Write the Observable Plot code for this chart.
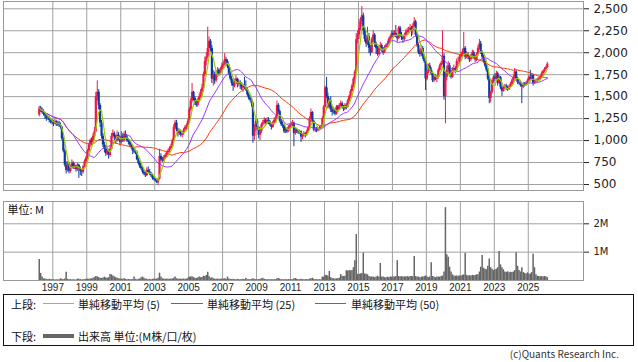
<!DOCTYPE html>
<html><head><meta charset="utf-8">
<script src="https://cdn.jsdelivr.net/npm/d3@7"></script>
<script src="https://cdn.jsdelivr.net/npm/@observablehq/plot@0.6"></script>
<style>
body{margin:0;background:#fff;}
#wrap{position:relative;width:638px;height:362px;overflow:hidden;background:#fff;color:#222;}
#price,#vol{position:absolute;left:0;}
#price{top:0;} #vol{top:192px;}
#vol g[aria-label="x-axis tick label"]{font-family:"Liberation Sans",sans-serif;font-size:10px;}
.box{position:absolute;left:3px;top:294px;width:631px;height:52px;border:1px solid #111;box-sizing:border-box;}
.t{position:absolute;font-family:"Noto Sans CJK JP",sans-serif;font-size:11px;line-height:14px;white-space:nowrap;color:#111;}
.ln{position:absolute;height:1px;}
.cp{position:absolute;right:19px;top:348px;font-family:"Noto Sans CJK JP",sans-serif;font-size:10px;line-height:12px;color:#333;}
</style></head>
<body>
<div id="wrap">
  <div id="price"></div>
  <div id="vol"></div>
  <div class="box"></div>
  <div class="t" style="left:11px;top:297px;">上段:</div>
  <div class="ln" style="left:43px;top:303px;width:31px;background:#99cc00;"></div>
  <div class="t" style="left:78px;top:297px;">単純移動平均 (5)</div>
  <div class="ln" style="left:171px;top:303px;width:32px;background:#9933ff;"></div>
  <div class="t" style="left:207px;top:297px;">単純移動平均 (25)</div>
  <div class="ln" style="left:315px;top:303px;width:31px;background:#ff3300;"></div>
  <div class="t" style="left:351px;top:297px;">単純移動平均 (50)</div>
  <div class="t" style="left:11px;top:329px;">下段:</div>
  <div class="ln" style="left:43px;top:334px;width:31px;height:4px;background:#666;"></div>
  <div class="t" style="left:78px;top:329px;">出来高 単位:(M株/口/枚)</div>
  <div class="cp">(c)Quants Research Inc.</div>
</div>
<script>
// ---- data (monthly, Mar 1996 - Feb 2026) ----
const open = [
1290,1370,1340,1320,1300,1280,1250,1260,1230,1210,
1200,1190,1215,1180,1200,1170,1150,1020,880,720,660,730,
650,700,740,690,710,670,720,680,650,640,700,760,
800,880,950,1000,980,1050,1100,1500,1550,1400,1200,1050,
950,900,850,880,830,900,1050,1080,1040,1000,1060,1020,
980,1050,1000,1070,1040,1000,980,950,920,880,870,860,
780,740,700,680,640,620,600,660,640,620,600,570,
560,540,520,560,820,780,770,800,830,860,880,910,
930,1000,1150,1200,1120,1080,1100,1060,1080,1120,1150,1170,
1220,1350,1450,1550,1480,1420,1400,1450,1500,1550,1600,1750,
1900,1950,2050,2130,2050,1700,1750,1680,1750,1800,1760,1800,
1850,1870,1920,1900,1850,1760,1700,1650,1620,1680,1700,1640,
1660,1640,1600,1620,1600,1580,1520,1480,1460,1420,1050,1150,
1220,1150,1060,1100,1180,1200,1230,1200,1230,1210,1180,1150,
1200,1230,1250,1400,1330,1220,1180,1170,1100,1120,1100,1150,
1170,1180,1200,1080,1120,1100,1090,1100,1040,1060,1080,1060,
1100,1140,1250,1320,1220,1120,1130,1110,1130,1140,1150,1250,
1380,1600,1500,1380,1450,1350,1320,1340,1300,1380,1350,1400,
1420,1380,1360,1400,1380,1450,1500,1560,1620,1700,1780,2150,
2200,2280,2350,2420,2250,2150,2100,2180,2050,2000,2150,2200,
2100,2050,1980,2050,2080,2040,2000,2060,2080,2100,2150,2180,
2220,2200,2220,2180,2160,2280,2200,2170,2150,2200,2230,2250,
2260,2280,2250,2300,2350,2200,2080,2000,1980,2050,1950,1900,
1700,1780,1850,1800,1760,1680,1720,1700,1720,1800,1850,1880,
1960,1500,1720,1800,1850,1780,1720,1800,1820,1800,1900,1900,
1950,1980,2000,2050,1950,1980,1950,1920,1960,2000,1950,1920,
1980,2050,2100,2000,1950,1900,1850,1800,1700,1480,1550,1680,
1720,1700,1760,1650,1720,1600,1560,1600,1620,1600,1580,1610,
1640,1680,1720,1780,1700,1660,1650,1630,1610,1640,1630,1650,
1680,1720,1700,1740,1650,1670,1680,1690,1700,1720,1760,1790,
1810,1830];
const high = [
1390,1390,1370,1350,1320,1300,1290,1270,1250,1240,
1230,1240,1230,1220,1220,1200,1160,1040,900,760,760,750,
720,780,760,740,720,740,730,700,670,720,780,820,
900,970,1020,1030,1080,1150,1550,1680,1580,1420,1230,1080,
980,940,920,900,930,1080,1120,1100,1060,1110,1090,1040,
1100,1080,1100,1110,1060,1020,1000,970,940,910,900,880,
800,760,740,700,660,640,690,700,670,640,620,590,
580,560,570,900,850,810,830,850,880,900,930,960,
1020,1180,1230,1230,1140,1130,1120,1100,1140,1170,1190,1240,
1380,1480,1650,1560,1500,1460,1480,1530,1580,1640,1780,1950,
2000,2290,2180,2150,2080,1800,1780,1790,1830,1820,1830,1880,
1900,1990,1950,1920,1870,1780,1730,1680,1700,1740,1710,1690,
1680,1660,1640,1720,1680,1600,1540,1500,1480,1440,1180,1240,
1240,1160,1130,1200,1230,1260,1250,1260,1260,1230,1200,1220,
1260,1280,1450,1420,1350,1240,1210,1180,1150,1140,1170,1190,
1210,1230,1210,1140,1140,1120,1120,1110,1080,1100,1090,1120,
1160,1270,1360,1330,1230,1150,1150,1150,1160,1170,1270,1400,
1620,1720,1540,1480,1500,1380,1380,1360,1400,1400,1420,1450,
1440,1400,1420,1420,1470,1520,1580,1640,1720,1800,2220,2250,
2380,2400,2525,2450,2290,2200,2290,2220,2080,2170,2250,2220,
2120,2070,2080,2120,2100,2060,2080,2100,2130,2170,2200,2250,
2250,2250,2310,2200,2300,2300,2230,2190,2220,2260,2280,2290,
2320,2300,2330,2400,2370,2220,2100,2030,2080,2070,1980,1920,
1800,1870,1880,1830,1780,1740,1750,1740,1820,1870,1900,2250,
1990,1780,1850,1900,1880,1800,1830,1860,1840,1930,1950,1980,
2010,2040,2230,2070,2010,2000,1970,1980,2030,2020,1970,2000,
2080,2150,2130,2020,1970,1920,1870,1820,1720,1560,1700,1740,
1760,1790,1780,1740,1730,1620,1620,1640,1640,1620,1630,1660,
1700,1740,1820,1800,1720,1690,1680,1650,1660,1660,1670,1700,
1740,1800,1760,1750,1690,1700,1710,1720,1740,1780,1800,1830,
1850,1890];
const low = [
1270,1320,1300,1280,1240,1220,1230,1200,1190,1180,
1160,1180,1160,1160,1150,1130,1000,860,700,620,640,620,
630,680,670,670,640,650,570,600,590,620,690,740,
780,860,920,940,960,1030,1090,1450,1350,1150,1020,920,
860,820,830,790,810,890,1020,1000,960,980,1000,940,
960,980,980,1020,980,950,920,900,840,850,840,770,
720,680,660,620,600,580,590,630,600,580,550,540,
530,510,490,550,760,750,760,790,810,840,860,890,
920,990,1130,1100,1040,1060,1040,1030,1060,1100,1120,1150,
1200,1330,1430,1450,1400,1380,1380,1430,1480,1520,1590,1730,
1850,1930,2000,1980,1650,1620,1640,1660,1720,1730,1740,1780,
1820,1850,1840,1820,1740,1680,1620,1560,1600,1660,1600,1610,
1580,1570,1550,1580,1560,1500,1460,1440,1380,970,1000,1100,
1120,1020,1000,1080,1160,1180,1160,1180,1180,1160,1120,1140,
1180,1200,1240,1300,1200,1160,1140,1080,1080,1080,1090,1130,
1150,1160,930,1060,1080,1070,1070,980,1010,1040,1030,1050,
1090,1130,1240,1200,1100,1090,1090,1100,1110,1120,1140,1240,
1370,1480,1360,1360,1320,1280,1300,1280,1290,1320,1340,1380,
1360,1330,1340,1350,1370,1440,1480,1540,1600,1640,1760,2100,
2150,2250,2320,2200,2120,2060,2080,1990,1960,1990,2120,2060,
1980,1960,1970,2020,2010,1970,1990,2030,2060,2090,2110,2160,
2170,2180,2170,2120,2150,2180,2140,2110,2130,2180,2200,2220,
2240,2180,2200,2280,2180,2060,1980,1950,1960,1920,1880,1570,
1680,1760,1780,1740,1660,1660,1680,1660,1700,1780,1830,1860,
1460,1190,1680,1760,1750,1700,1710,1780,1760,1790,1860,1880,
1930,1950,1980,1920,1930,1920,1890,1900,1940,1930,1890,1900,
1960,2030,1980,1930,1880,1830,1780,1680,1420,1430,1530,1650,
1670,1690,1620,1640,1580,1500,1550,1580,1570,1560,1570,1600,
1620,1660,1700,1680,1640,1630,1610,1420,1590,1610,1620,1640,
1670,1690,1680,1620,1640,1650,1660,1670,1690,1710,1740,1770,
1790,1820];
const close = [
1370,1340,1320,1300,1280,1250,1260,1230,1210,1200,
1190,1215,1180,1200,1170,1150,1020,880,720,660,730,650,
700,740,690,710,670,720,680,650,640,700,760,800,
880,950,1000,980,1050,1100,1500,1550,1400,1200,1050,950,
900,850,880,830,900,1050,1080,1040,1000,1060,1020,980,
1050,1000,1070,1040,1000,980,950,920,880,870,860,780,
740,700,680,640,620,600,660,640,620,600,570,560,
540,520,560,820,780,770,800,830,860,880,910,930,
1000,1150,1200,1120,1080,1100,1060,1080,1120,1150,1170,1220,
1350,1450,1550,1480,1420,1400,1450,1500,1550,1600,1750,1900,
1950,2050,2130,2050,1700,1750,1680,1750,1800,1760,1800,1850,
1870,1920,1900,1850,1760,1700,1650,1620,1680,1700,1640,1660,
1640,1600,1620,1600,1580,1520,1480,1460,1420,1050,1150,1220,
1150,1060,1100,1180,1200,1230,1200,1230,1210,1180,1150,1200,
1230,1250,1400,1330,1220,1180,1170,1100,1120,1100,1150,1170,
1180,1200,1080,1120,1100,1090,1100,1040,1060,1080,1060,1100,
1140,1250,1320,1220,1120,1130,1110,1130,1140,1150,1250,1380,
1600,1500,1380,1450,1350,1320,1340,1300,1380,1350,1400,1420,
1380,1360,1400,1380,1450,1500,1560,1620,1700,1780,2150,2200,
2280,2350,2420,2250,2150,2100,2180,2050,2000,2150,2200,2100,
2050,1980,2050,2080,2040,2000,2060,2080,2100,2150,2180,2220,
2200,2220,2180,2160,2280,2200,2170,2150,2200,2230,2250,2260,
2280,2250,2300,2350,2200,2080,2000,1980,2050,1950,1900,1700,
1780,1850,1800,1760,1680,1720,1700,1720,1800,1850,1880,1960,
1500,1720,1800,1850,1780,1720,1800,1820,1800,1900,1900,1950,
1980,2000,2050,1950,1980,1950,1920,1960,2000,1950,1920,1980,
2050,2100,2000,1950,1900,1850,1800,1700,1480,1550,1680,1720,
1700,1760,1650,1720,1600,1560,1600,1620,1600,1580,1610,1640,
1680,1720,1780,1700,1660,1650,1630,1610,1640,1630,1650,1680,
1720,1700,1740,1650,1670,1680,1690,1700,1720,1760,1790,1810,
1830,1870];
const volume = [ // millions
0.74,0.25,0.12,0.06,0.05,0.04,0.03,0.04,0.03,0.03,
0.03,0.02,0.03,0.02,0.03,0.06,0.04,0.03,0.05,0.29,0.04,0.03,
0.03,0.02,0.03,0.02,0.02,0.05,0.04,0.03,0.02,0.03,0.03,0.04,
0.05,0.04,0.05,0.06,0.08,0.10,0.14,0.13,0.10,0.08,0.07,0.09,
0.12,0.09,0.08,0.10,0.21,0.20,0.16,0.13,0.10,0.08,0.06,0.05,
0.05,0.04,0.06,0.04,0.03,0.04,0.03,0.03,0.03,0.12,0.04,0.03,
0.04,0.05,0.10,0.12,0.08,0.05,0.04,0.03,0.04,0.03,0.04,0.05,
0.04,0.05,0.08,0.26,0.12,0.06,0.05,0.04,0.05,0.04,0.04,0.05,
0.05,0.08,0.12,0.06,0.05,0.04,0.05,0.04,0.05,0.04,0.05,0.08,
0.12,0.12,0.13,0.10,0.08,0.07,0.09,0.12,0.10,0.11,0.15,0.14,
0.18,0.29,0.14,0.08,0.10,0.06,0.05,0.04,0.05,0.04,0.04,0.05,
0.05,0.06,0.04,0.12,0.05,0.04,0.03,0.04,0.03,0.03,0.04,0.03,
0.03,0.03,0.04,0.03,0.08,0.03,0.03,0.03,0.04,0.06,0.04,0.03,
0.03,0.03,0.04,0.06,0.08,0.04,0.03,0.03,0.03,0.03,0.03,0.03,
0.03,0.03,0.06,0.07,0.04,0.03,0.03,0.03,0.03,0.03,0.03,0.03,
0.03,0.03,0.06,0.07,0.04,0.03,0.03,0.04,0.03,0.03,0.03,0.03,
0.03,0.05,0.06,0.08,0.04,0.03,0.03,0.03,0.03,0.03,0.12,0.12,
0.18,0.18,0.15,0.32,0.10,0.06,0.06,0.05,0.06,0.06,0.08,0.21,
0.15,0.14,0.15,0.35,0.33,0.35,0.34,0.35,0.45,0.70,1.62,0.21,
0.22,0.23,0.25,0.97,0.23,0.22,0.20,0.14,0.12,0.12,0.12,0.10,
0.12,0.15,0.12,0.60,0.12,0.12,0.10,0.10,0.12,0.10,0.12,0.12,
0.12,0.12,0.14,0.70,0.14,0.12,0.14,0.12,0.13,0.12,0.14,0.12,
0.14,0.14,0.13,0.85,0.14,0.12,0.12,0.10,0.12,0.12,0.14,0.16,
0.12,0.10,0.12,0.63,0.14,0.12,0.10,0.12,0.12,0.12,0.14,0.16,
0.30,2.57,0.91,0.82,0.47,0.30,0.20,0.16,0.15,0.16,0.15,0.16,
0.16,0.18,0.20,0.96,0.18,0.16,0.17,0.16,0.18,0.17,0.18,0.20,
0.20,0.30,0.47,0.88,0.43,0.40,0.38,0.50,0.76,0.45,0.40,0.35,
0.38,0.40,0.45,1.02,0.55,0.45,0.38,0.30,0.28,0.31,0.27,0.29,
0.28,0.30,0.35,0.98,0.50,0.35,0.30,0.45,0.28,0.25,0.23,0.27,
0.22,0.23,0.28,0.93,0.45,0.20,0.15,0.14,0.13,0.14,0.12,0.14,
0.13,0.10];
const priceTicks = [500, 750, 1000, 1250, 1500, 1750, 2000, 2250, 2500];
const volTicks = [1, 2];
const yearLabels = [1997,1999,2001,2003,2005,2007,2009,2011,2013,2015,2017,2019,2021,2023,2025];

// ---- build ----
const months = d3.utcMonth.range(new Date(Date.UTC(1996, 2, 1)), new Date(Date.UTC(2026, 2, 1)));
const rows = months.map((m, i) => ({
  date: d3.utcDay.offset(m, 14), o: open[i], h: high[i], l: low[i], c: close[i], v: volume[i]
}));
const yearDates = yearLabels.map(y => new Date(Date.UTC(y, 0, 1)));
const xDomain = [new Date(Date.UTC(1994, 1, 5)), new Date(Date.UTC(2028, 3, 3))];
const UP = "#ee1848", DOWN = "#0b3aa3", GRID = "#a0a0a0";
const col = d => d.c >= d.o ? UP : DOWN;

const price = Plot.plot({
  width: 638, height: 192,
  marginLeft: 3, marginRight: 55, marginTop: 1, marginBottom: 2,
  style: {fontFamily: "DejaVu Sans, sans-serif", fontSize: "12px", color: "#222", background: "transparent"},
  x: {type: "utc", domain: xDomain, axis: null},
  y: {domain: [431.7, 2583], axis: "right", ticks: priceTicks, tickFormat: d3.format(","), tickSize: 5, tickPadding: 5, label: null},
  color: {type: "identity"},
  marks: [
    Plot.ruleY(priceTicks, {stroke: GRID}),
    Plot.ruleX(yearDates, {stroke: GRID}),
    Plot.ruleX(rows, {x: "date", y1: "l", y2: "h", stroke: col, strokeWidth: 1}),
    Plot.ruleX(rows, {x: "date", y1: "o", y2: "c", stroke: col, strokeWidth: 2.2}),
    Plot.lineY(rows, Plot.windowY({k: 50, anchor: "end"}, {x: "date", y: "c", stroke: "#ff3300", strokeWidth: 1})),
    Plot.lineY(rows, Plot.windowY({k: 25, anchor: "end"}, {x: "date", y: "c", stroke: "#9933ff", strokeWidth: 1})),
    Plot.lineY(rows, Plot.windowY({k: 5, anchor: "end"}, {x: "date", y: "c", stroke: "#99cc00", strokeWidth: 1.2})),
    Plot.frame({stroke: "#999"})
  ]
});
document.getElementById("price").append(price);

const vol = Plot.plot({
  width: 638, height: 102,
  marginLeft: 3, marginRight: 55, marginTop: 9, marginBottom: 14,
  style: {fontFamily: "DejaVu Sans, sans-serif", fontSize: "10px", color: "#222", background: "transparent"},
  x: {type: "utc", domain: xDomain, ticks: yearDates, tickFormat: d3.utcFormat("%Y"), tickSize: 0, tickPadding: 3, label: null},
  y: {domain: [0, 2.787], axis: "right", ticks: volTicks, tickFormat: d => d + "M", tickSize: 5, tickPadding: 5, label: null},
  marks: [
    Plot.ruleY(volTicks, {stroke: GRID}),
    Plot.ruleX(yearDates, {stroke: GRID}),
    Plot.ruleX(rows, {x: "date", y1: 0, y2: "v", stroke: "#666", strokeWidth: 1.5}),
    Plot.frame({stroke: "#999"}),
    Plot.text(["単位: M"], {frameAnchor: "top-left", dx: 4, dy: 5, textAnchor: "start", lineAnchor: "top", fontFamily: "Noto Sans CJK JP", fontSize: 11, fill: "#111"})
  ]
});
document.getElementById("vol").append(vol);
</script>
</body></html>
